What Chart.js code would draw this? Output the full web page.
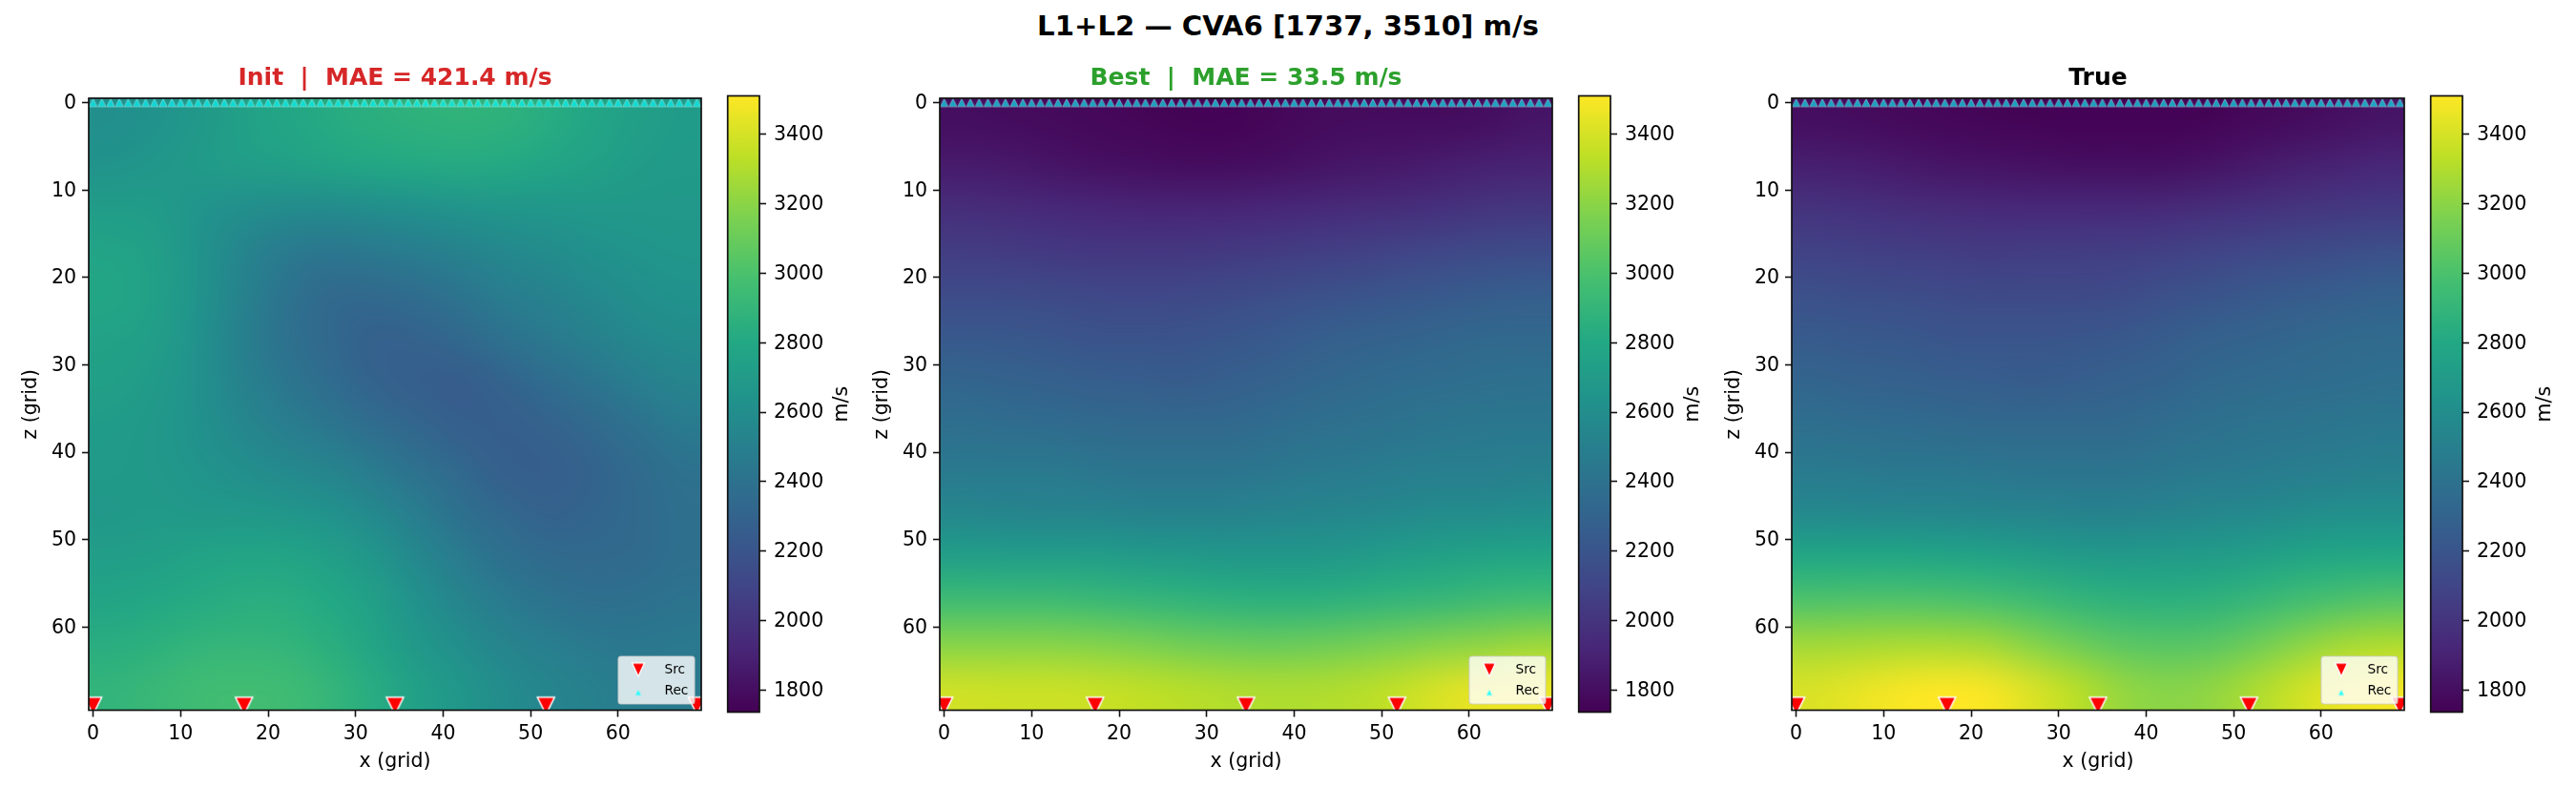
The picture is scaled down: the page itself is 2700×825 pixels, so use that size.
<!DOCTYPE html>
<html>
<head>
<meta charset="UTF-8">
<title>L1+L2 CVA6</title>
<script src="https://cdn.jsdelivr.net/npm/chart.js"></script>
<style>
  html, body { margin: 0; padding: 0; background: #fff; }
  #page { position: relative; width: 2700px; height: 825px; overflow: hidden; }
  #page canvas { position: absolute; top: 0; }
  #suptitle { position: absolute; left: 0; width: 2700px; top: 10px; text-align: center;
    font: bold 29.2px "DejaVu Sans"; line-height: 35px; color: #000; }
</style>
</head>
<body>
<div id="page">
  <div id="suptitle">L1+L2 — CVA6 [1737, 3510] m/s</div>
</div>
<script>
// cell centres (each estimate covers 5 grid cells)
const cellX = [2, 7, 12, 17, 22, 27, 32, 37, 42, 47, 52, 57, 62, 67];
const cellZ = [2, 7, 12, 17, 22, 27, 32, 37, 42, 47, 52, 57, 62, 67];

const initVel = [
  [2610,2630,2680,2740,2780,2820,2850,2870,2880,2870,2830,2780,2730,2700],
  [2640,2660,2690,2720,2740,2770,2790,2810,2820,2810,2780,2750,2710,2690],
  [2710,2700,2650,2610,2590,2580,2600,2620,2650,2660,2670,2680,2680,2680],
  [2760,2730,2640,2540,2460,2430,2450,2480,2520,2560,2590,2620,2650,2660],
  [2780,2740,2640,2520,2410,2340,2340,2370,2420,2480,2520,2570,2610,2630],
  [2750,2720,2620,2500,2400,2330,2280,2290,2330,2400,2450,2500,2560,2590],
  [2730,2690,2620,2520,2430,2360,2300,2260,2250,2300,2360,2420,2480,2530],
  [2700,2680,2620,2550,2490,2430,2370,2320,2270,2260,2290,2340,2400,2460],
  [2690,2680,2650,2610,2570,2530,2470,2400,2330,2270,2260,2300,2350,2400],
  [2680,2690,2680,2680,2660,2630,2570,2480,2390,2330,2290,2310,2340,2380],
  [2720,2730,2760,2780,2770,2730,2660,2560,2470,2390,2350,2340,2350,2380],
  [2770,2790,2820,2840,2840,2800,2730,2620,2530,2460,2410,2380,2390,2410],
  [2840,2860,2890,2900,2890,2850,2770,2680,2600,2530,2490,2450,2440,2450],
  [2890,2920,2950,2960,2950,2900,2830,2740,2660,2590,2540,2500,2470,2460]
];
const bestVel = [
  [1800,1790,1780,1770,1760,1750,1745,1760,1780,1790,1790,1790,1800,1830],
  [1860,1850,1830,1810,1800,1790,1790,1800,1820,1840,1850,1870,1890,1900],
  [1960,1950,1930,1920,1910,1910,1910,1920,1930,1950,1960,1980,2000,2010],
  [2050,2040,2030,2020,2020,2020,2030,2040,2060,2070,2090,2110,2130,2140],
  [2140,2140,2130,2120,2110,2120,2130,2150,2170,2190,2210,2230,2250,2260],
  [2230,2220,2210,2190,2190,2190,2210,2230,2260,2280,2300,2320,2330,2330],
  [2310,2300,2280,2270,2260,2250,2270,2290,2320,2340,2360,2370,2380,2390],
  [2380,2370,2360,2350,2340,2340,2340,2360,2380,2400,2410,2430,2440,2440],
  [2450,2450,2450,2430,2420,2420,2420,2430,2450,2460,2480,2490,2490,2500],
  [2550,2540,2530,2530,2520,2520,2520,2530,2540,2550,2570,2590,2590,2600],
  [2730,2720,2720,2720,2700,2690,2680,2680,2680,2690,2720,2750,2770,2780],
  [2950,2950,2950,2930,2910,2890,2870,2860,2860,2880,2900,2920,2950,2970],
  [3190,3190,3190,3180,3160,3130,3110,3100,3110,3130,3160,3190,3210,3240],
  [3380,3370,3370,3360,3340,3320,3300,3290,3290,3310,3350,3410,3450,3460]
];
const trueVel = [
  [1800,1790,1775,1765,1755,1750,1745,1745,1745,1750,1770,1785,1805,1830],
  [1880,1870,1850,1830,1820,1810,1800,1800,1800,1820,1850,1880,1900,1920],
  [1990,1980,1960,1950,1940,1930,1930,1930,1940,1960,1980,2000,2020,2030],
  [2080,2070,2060,2050,2040,2050,2050,2060,2070,2090,2110,2130,2150,2170],
  [2170,2160,2150,2140,2130,2130,2130,2140,2170,2190,2220,2240,2260,2280],
  [2240,2230,2220,2200,2200,2200,2210,2220,2250,2280,2300,2320,2340,2350],
  [2310,2290,2280,2270,2260,2250,2260,2280,2300,2330,2350,2360,2370,2380],
  [2380,2370,2360,2350,2340,2340,2340,2340,2370,2390,2410,2420,2430,2440],
  [2460,2450,2440,2440,2430,2420,2420,2420,2430,2450,2460,2480,2490,2500],
  [2570,2560,2550,2550,2540,2530,2520,2520,2530,2550,2570,2590,2610,2610],
  [2790,2790,2790,2780,2760,2730,2700,2690,2700,2710,2730,2770,2790,2800],
  [3010,3020,3020,3010,2990,2950,2900,2870,2860,2870,2910,2960,3000,3030],
  [3260,3270,3280,3280,3260,3190,3120,3060,3040,3050,3110,3190,3260,3290],
  [3410,3450,3490,3510,3490,3410,3320,3230,3190,3210,3280,3370,3450,3480]
];

const srcX = [0, 17.25, 34.5, 51.75, 69];
const srcZ = [69, 69, 69, 69, 69];
const recX = [0,1,2,3,4,5,6,7,8,9,10,11,12,13,14,15,16,17,18,19,20,21,22,23,24,25,26,27,28,29,30,31,32,33,34,
  35,36,37,38,39,40,41,42,43,44,45,46,47,48,49,50,51,52,53,54,55,56,57,58,59,60,61,62,63,64,65,66,67,68,69];
const recZ = recX.map(() => 0);

const gridTicks = [0, 10, 20, 30, 40, 50, 60];
const cbarTicks = [1800, 2000, 2200, 2400, 2600, 2800, 3000, 3200, 3400];
const vMin = 1737, vMax = 3510;

const panelTitles = ['Init  |  MAE = 421.4 m/s', 'Best  |  MAE = 33.5 m/s', 'True'];
const panelColors = ['#d62728', '#2ca02c', '#000000'];
const panelFields = [initVel, bestVel, trueVel];
const panelLeft = [0, 892, 1785];

const viridis = ['#440154','#482576','#414487','#355f8d','#2a788e','#21918c','#22a884','#44bf70','#7ad151','#bddf26','#fde725'];
const FONT = '"DejaVu Sans"';

function hexRgb(h) { return [1, 3, 5].map(i => parseInt(h.substr(i, 2), 16)); }
function viridisAt(t) {
  t = Math.min(1, Math.max(0, t)) * (viridis.length - 1);
  const i = Math.min(viridis.length - 2, Math.floor(t)), f = t - i;
  const a = hexRgb(viridis[i]), b = hexRgb(viridis[i + 1]);
  return a.map((c, k) => Math.round(c + (b[k] - c) * f));
}

// triangle sprite, matplotlib style: width w, height h, centred on the point
function triSprite(w, h, fill, edge, edgeW, down) {
  const c = document.createElement('canvas');
  c.width = Math.ceil(w + 2 * edgeW + 6); c.height = Math.ceil(h + 2 * edgeW + 6);
  const x = c.getContext('2d'), cx = c.width / 2, cy = c.height / 2, s = down ? 1 : -1;
  x.beginPath();
  x.moveTo(cx, cy + s * h / 2); x.lineTo(cx - w / 2, cy - s * h / 2); x.lineTo(cx + w / 2, cy - s * h / 2); x.closePath();
  x.fillStyle = fill; x.fill();
  x.lineWidth = edgeW; x.strokeStyle = edge; x.lineJoin = 'miter'; x.stroke();
  return c;
}
const srcSprite = triSprite(18, 18, '#ff0000', '#ffffff', 1.5, true);
const recSprite = triSprite(8.5, 8.5, 'rgba(0,255,255,0.62)', 'rgba(255,255,255,0.5)', 0.7, false);
const srcLegendSprite = triSprite(13, 14, '#ff0000', '#ffffff', 1.3, true);
const recLegendSprite = triSprite(6, 6, 'rgba(0,255,255,0.8)', 'rgba(255,255,255,0.4)', 0.4, false);

const heatmap = {
  id: 'heatmap',
  beforeDatasetsDraw(chart, args, opts) {
    const field = opts.field, nz = field.length, nx = field[0].length;
    const off = document.createElement('canvas');
    off.width = nx; off.height = nz;
    const o = off.getContext('2d'), img = o.createImageData(nx, nz);
    field.forEach((row, j) => row.forEach((v, i) => {
      const c = viridisAt((v - vMin) / (vMax - vMin)), p = 4 * (j * nx + i);
      img.data[p] = c[0]; img.data[p + 1] = c[1]; img.data[p + 2] = c[2]; img.data[p + 3] = 255;
    }));
    o.putImageData(img, 0, 0);
    const { x, y } = chart.scales, ctx = chart.ctx;
    const x0 = x.getPixelForValue(cellX[0] - 2.5), x1 = x.getPixelForValue(cellX[nx - 1] + 2.5);
    const y0 = y.getPixelForValue(cellZ[0] - 2.5), y1 = y.getPixelForValue(cellZ[nz - 1] + 2.5);
    ctx.save();
    ctx.imageSmoothingEnabled = true; ctx.imageSmoothingQuality = 'high';
    ctx.drawImage(off, x0, y0, x1 - x0, y1 - y0);
    ctx.restore();
  }
};

function spines(chart) {
  const a = chart.chartArea, ctx = chart.ctx;
  ctx.save(); ctx.strokeStyle = '#111'; ctx.lineWidth = 1.7;
  ctx.strokeRect(a.left, a.top, a.right - a.left, a.bottom - a.top);
  ctx.restore();
}

const frameLegend = {
  id: 'frameLegend',
  afterDatasetsDraw(chart) {
    spines(chart);
    const a = chart.chartArea, ctx = chart.ctx;
    const w = 80, h = 50, bx = a.right - 7 - w, by = a.bottom - 6.5 - h;
    ctx.save();
    ctx.beginPath(); ctx.roundRect(bx, by, w, h, 3);
    ctx.fillStyle = 'rgba(255,255,255,0.8)'; ctx.fill();
    ctx.lineWidth = 1.2; ctx.strokeStyle = 'rgba(204,204,204,0.8)'; ctx.stroke();
    ctx.font = '13.7px ' + FONT; ctx.fillStyle = '#000'; ctx.textBaseline = 'middle'; ctx.textAlign = 'left';
    const sprites = [srcLegendSprite, recLegendSprite];
    chart.data.datasets.forEach((d, i) => {
      const cy = by + 14 + i * 22, s = sprites[i];
      ctx.drawImage(s, bx + 21 - s.width / 2, cy - s.height / 2 + (i ? 2 : 0));
      ctx.fillText(d.label, bx + 48.5, cy);
    });
    ctx.restore();
  }
};

const cbarFill = {
  id: 'cbarFill',
  beforeDatasetsDraw(chart) {
    const a = chart.chartArea, ctx = chart.ctx, y = chart.scales.y;
    const g = ctx.createLinearGradient(0, y.getPixelForValue(vMin), 0, y.getPixelForValue(vMax));
    viridis.forEach((c, i) => g.addColorStop(i / (viridis.length - 1), c));
    ctx.fillStyle = g;
    ctx.fillRect(a.left, a.top, a.right - a.left, a.bottom - a.top);
  },
  afterDatasetsDraw(chart) {
    spines(chart);
    const ctx = chart.ctx;
    ctx.save();
    ctx.translate(127.5, chart.scales.y.getPixelForValue(2623));
    ctx.rotate(-Math.PI / 2);
    ctx.font = '20.5px ' + FONT; ctx.fillStyle = '#000'; ctx.textAlign = 'center'; ctx.textBaseline = 'middle';
    ctx.fillText('m/s', 0, 0);
    ctx.restore();
  }
};

function addCanvas(left, width) {
  const c = document.createElement('canvas');
  c.width = width; c.height = 825;
  c.style.left = left + 'px'; c.style.width = width + 'px'; c.style.height = '825px';
  document.getElementById('page').appendChild(c);
  return c.getContext('2d');
}

function axisOpts(title, titlePad) {
  return {
    type: 'linear', min: -0.5, max: 69.5,
    afterBuildTicks: s => { s.ticks = gridTicks.map(v => ({ value: v })); },
    ticks: { autoSkip: false, maxRotation: 0, color: '#000', font: { family: FONT, size: 20.5 }, padding: 6, callback: v => String(v) },
    grid: { drawOnChartArea: false, tickLength: 7, tickWidth: 1.6, tickColor: '#111' },
    border: { display: false },
    title: { display: true, text: title, color: '#000', font: { family: FONT, size: 20.5 }, padding: titlePad }
  };
}

panelFields.forEach((field, k) => {
  const xAxis = axisOpts('x (grid)', { top: 0, bottom: 14.5 });
  xAxis.afterFit = s => { s.height = 80.5; };
  const yAxis = axisOpts('z (grid)', { top: 20, bottom: 0 });
  yAxis.reverse = true;
  yAxis.ticks.labelOffset = 1;
  yAxis.afterFit = s => { s.width = 93; };

  new Chart(addCanvas(panelLeft[k], 745), {
    type: 'scatter',
    data: {
      datasets: [
        { label: 'Src', data: srcX.map((v, i) => ({ x: v, y: srcZ[i] })), pointStyle: srcSprite, clip: 0 },
        { label: 'Rec', data: recX.map((v, i) => ({ x: v, y: recZ[i] })), pointStyle: recSprite, clip: 0 }
      ]
    },
    options: {
      responsive: false, animation: false, devicePixelRatio: 1,
      layout: { padding: { top: 67.5, right: 10, bottom: 0, left: 0 } },
      scales: { x: xAxis, y: yAxis },
      plugins: {
        legend: { display: false }, tooltip: { enabled: false },
        title: { display: true, fullSize: false, text: panelTitles[k], color: panelColors[k], font: { family: FONT, size: 25, weight: 'bold' }, padding: { top: 0, bottom: 5.5 } },
        heatmap: { field: field }
      }
    },
    plugins: [heatmap, frameLegend]
  });

  // colorbar
  new Chart(addCanvas(panelLeft[k] + 755, 145), {
    type: 'scatter',
    data: { datasets: [] },
    options: {
      responsive: false, animation: false, devicePixelRatio: 1,
      layout: { padding: { top: 100.5, right: 0, bottom: 78.5, left: 7.7 } },
      scales: {
        x: { display: false },
        y: {
          type: 'linear', position: 'right', min: vMin, max: vMax,
          afterBuildTicks: s => { s.ticks = cbarTicks.map(v => ({ value: v })); },
          afterFit: s => { s.width = 104; },
          ticks: { autoSkip: false, maxRotation: 0, color: '#000', font: { family: FONT, size: 20.5 }, padding: 8, labelOffset: 1, callback: v => String(v) },
          grid: { drawOnChartArea: false, tickLength: 7, tickWidth: 1.6, tickColor: '#111' },
          border: { display: false }
        }
      },
      plugins: { legend: { display: false }, tooltip: { enabled: false } }
    },
    plugins: [cbarFill]
  });
});
</script>
</body>
</html>
